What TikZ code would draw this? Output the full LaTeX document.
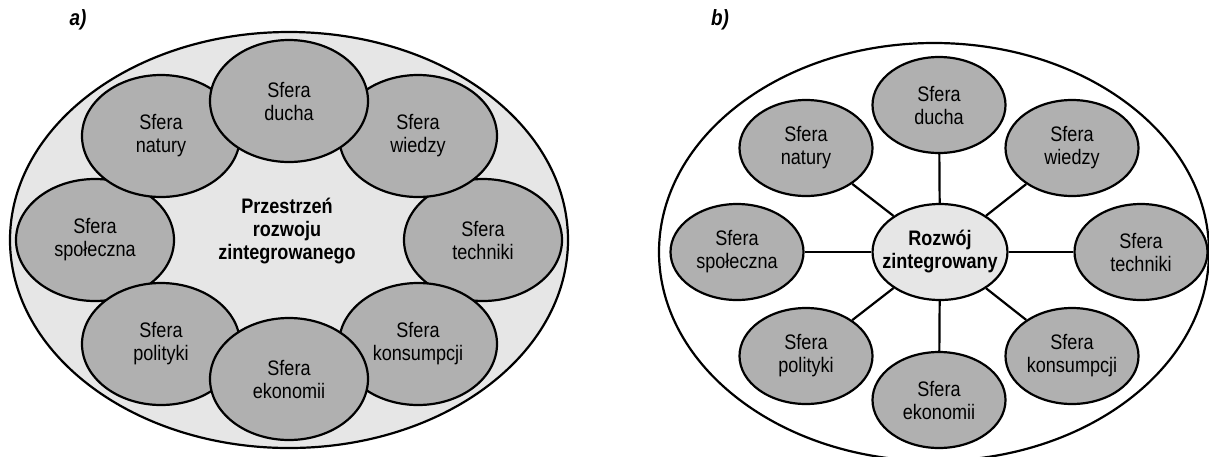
\documentclass[tikz,border=0pt]{standalone}
\usepackage{fontspec}
\setmainfont{Liberation Sans}[FakeStretch=0.86]
\usetikzlibrary{shapes.geometric}
\definecolor{sferafill}{HTML}{B0B0B0}
\definecolor{spacefill}{HTML}{E6E6E6}
\tikzset{
  sfera/.style={ellipse,draw,line width=2.2pt,fill=sferafill,inner sep=0pt,align=center,font=\fontsize{21}{23}\selectfont},
  sferaA/.style={sfera,minimum width=158pt,minimum height=122pt},
  sferaB/.style={sfera,minimum width=133pt,minimum height=96pt},
  panel/.style={font=\fontsize{22}{24}\selectfont\bfseries\itshape},
  link/.style={line width=2.2pt}
}

\begin{document}
\begin{tikzpicture}[x=1pt,y=-1pt]
\useasboundingbox (0,0) rectangle (1209,456);

% a)
\node[panel] (a-label) at (78,20) {a)};
\node[ellipse,draw,line width=2.2pt,fill=spacefill,minimum width=558pt,minimum height=416pt] (a-space) at (289,240) {};
\node[sferaA] (a-spoleczna) at (95,240) {Sfera\\społeczna};
\node[sferaA] (a-techniki) at (483,240) {Sfera\\techniki};
\node[sferaA] (a-natury) at (161,136) {Sfera\\natury};
\node[sferaA] (a-wiedzy) at (418,136) {Sfera\\wiedzy};
\node[sferaA] (a-polityki) at (161,344) {Sfera\\polityki};
\node[sferaA] (a-konsumpcji) at (418,344) {Sfera\\konsumpcji};
\node[sferaA] (a-ducha) at (289,101) {Sfera\\ducha};
\node[sferaA] (a-ekonomii) at (289,379) {Sfera\\ekonomii};
\node[align=center,font=\fontsize{21}{23}\selectfont\bfseries] (a-text) at (287,231) {Przestrzeń\\rozwoju\\zintegrowanego};

% b)
\node[panel] (b-label) at (720,20) {b)};
\node[ellipse,draw,line width=2.2pt,fill=white,minimum width=550pt,minimum height=418pt] (b-space) at (934,252) {};
\node[sferaB,fill=spacefill,minimum width=134pt,inner sep=-10pt] (b-centre) at (940,252) {\bfseries Rozwój\\\bfseries zintegrowany};
\node[sferaB] (b-ducha) at (939,105) {Sfera\\ducha};
\node[sferaB] (b-wiedzy) at (1072,148) {Sfera\\wiedzy};
\node[sferaB] (b-techniki) at (1141,252) {Sfera\\techniki};
\node[sferaB] (b-konsumpcji) at (1072,356) {Sfera\\konsumpcji};
\node[sferaB] (b-ekonomii) at (939,400) {Sfera\\ekonomii};
\node[sferaB] (b-polityki) at (806,356) {Sfera\\polityki};
\node[sferaB] (b-spoleczna) at (737,252) {Sfera\\społeczna};
\node[sferaB] (b-natury) at (806,148) {Sfera\\natury};
\foreach \s in {ducha,wiedzy,techniki,konsumpcji,ekonomii,polityki,spoleczna,natury}
  \draw[link] (b-centre) -- (b-\s);
\end{tikzpicture}
\end{document}
